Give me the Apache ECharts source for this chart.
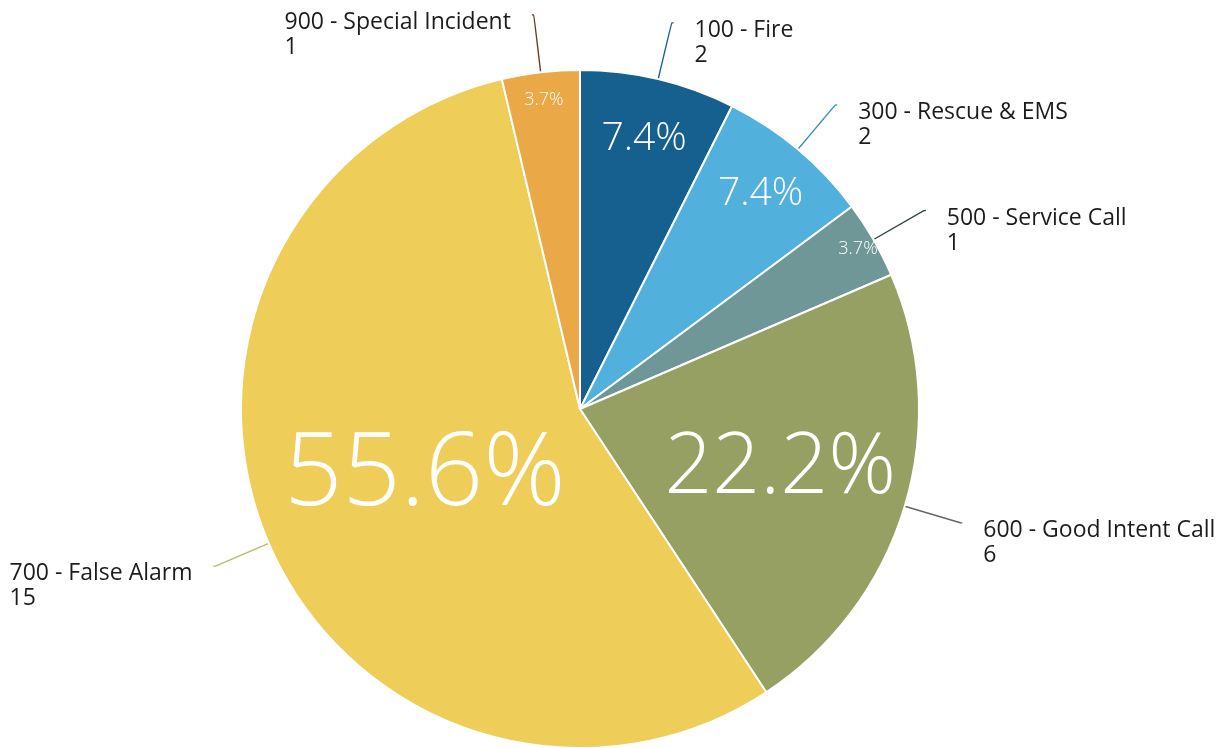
<!DOCTYPE html>
<html>
<head>
<meta charset="utf-8">
<title>Incident Types</title>
<script src="https://cdn.jsdelivr.net/npm/echarts@6/dist/echarts.min.js"></script>
<style>
  html, body { margin: 0; padding: 0; background: #fff; }
  #chart { width: 1231px; height: 748px; }
</style>
</head>
<body>
<div id="chart"></div>
<script>
// incident categories, clockwise from 12 o'clock
const categories = [
  '100 - Fire',
  '300 - Rescue & EMS',
  '500 - Service Call',
  '600 - Good Intent Call',
  '700 - False Alarm',
  '900 - Special Incident'
]
const counts = [2, 2, 1, 6, 15, 1]

// styling per slice
const sliceColors = ['#15608e', '#52b0dc', '#6f9797', '#95a062', '#eecd58', '#eaa846']
const leaderColors = ['#1d5f8f', '#3b8fc0', '#2f4646', '#666', '#b8bb6e', '#6b3d1a']
const pctFontSize = [39, 39, 18, 84, 102, 18]
const pctRadius = [275, 278, 318, 206, 166, 308]

const center = [580, 409]
const outerRadius = 339
const fontFamily = '"Open Sans", "Noto Sans", sans-serif'

const chart = echarts.init(document.getElementById('chart'))

const mainSeries = {
  type: 'pie',
  center: center,
  radius: [0, outerRadius],
  startAngle: 90,
  clockwise: true,
  avoidLabelOverlap: false,
  silent: true,
  data: categories.map((name, i) => ({
    name: name,
    value: counts[i],
    itemStyle: { color: sliceColors[i] },
    labelLine: { lineStyle: { color: leaderColors[i] } }
  })),
  itemStyle: { borderColor: '#fff', borderWidth: 2 },
  label: {
    show: true,
    position: 'outside',
    // blank first line pushes the two text lines below the leader end
    formatter: '{s| }\n{a|{b}}\n{a|{c}}',
    distanceToLabelLine: 21,
    rich: {
      s: { fontSize: 10, lineHeight: 40 },
      a: {
        fontFamily: fontFamily,
        fontSize: 23,
        lineHeight: 25,
        color: '#1c1c1c',
        align: 'left'
      }
    }
  },
  labelLine: {
    show: true,
    length: 58,
    length2: 2,
    smooth: true,
    lineStyle: { width: 1.4 }
  }
}

// one transparent ring per slice to place its percentage label at its own distance
const pctSeries = categories.map((name, k) => ({
  type: 'pie',
  center: center,
  radius: [pctRadius[k] - 4, pctRadius[k] + 4],
  startAngle: 90,
  clockwise: true,
  silent: true,
  percentPrecision: 1,
  avoidLabelOverlap: false,
  itemStyle: { color: 'rgba(0,0,0,0)' },
  labelLine: { show: false },
  data: categories.map((n, i) => ({
    name: n,
    value: counts[i],
    label: { show: i === k }
  })),
  label: {
    position: 'inside',
    formatter: '{d}%',
    fontFamily: fontFamily,
    fontWeight: 300,
    fontSize: pctFontSize[k],
    color: '#fff'
  }
}))

chart.setOption({
  backgroundColor: '#fff',
  animation: false,
  series: [mainSeries].concat(pctSeries)
})
</script>
</body>
</html>
